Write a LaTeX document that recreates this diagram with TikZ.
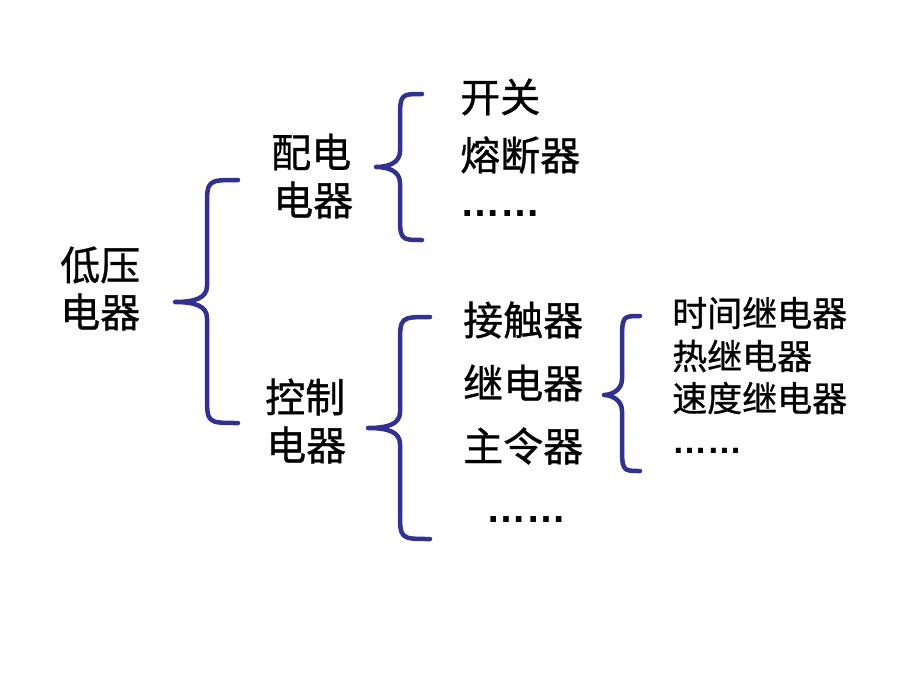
\documentclass[tikz,border=0pt]{standalone}
\usepackage{fontspec}
\setmainfont{Liberation Sans}
\newfontfamily\cjk[FakeBold=0.8]{Noto Sans CJK SC}
\definecolor{bracecol}{RGB}{48,48,150}
\tikzset{
  big/.style={anchor=west,inner sep=0pt,font=\cjk\fontsize{40}{40}\selectfont},
  small/.style={anchor=west,inner sep=0pt,font=\cjk\fontsize{35}{35}\selectfont},
  bigdots/.style={anchor=base west,inner sep=0pt,font=\bfseries\fontsize{40}{40}\selectfont},
  smalldots/.style={anchor=base west,inner sep=0pt,font=\bfseries\fontsize{35}{35}\selectfont},
  bracket/.style={draw=bracecol,line width=4.5pt,line cap=round,line join=round},
}
% #1 tip x, #2 tip y, #3 stem x, #4 end x, #5 top y, #6 bottom y
\newcommand{\curlybrace}[6]{%
  \draw[bracket] (#4,#5) .. controls (#3,#5) .. (#3,#5+28) -- (#3,#2-16)
    .. controls (#3,#2-4) and (#3-12,#2) .. (#1,#2)
    .. controls (#3-12,#2) and (#3,#2+4) .. (#3,#2+16) -- (#3,#6-28)
    .. controls (#3,#6) .. (#4,#6);}
\begin{document}
\begin{tikzpicture}[x=1pt,y=-1pt]
  \useasboundingbox (0,0) rectangle (920,690);
  \node[big] (dy1) at (60,265) {低压};   \node[big] (dy2) at (60,312) {电器};
  \node[big] (pd1) at (271,152) {配电};  \node[big] (pd2) at (273,200) {电器};
  \node[big] (kz1) at (265,397) {控制};  \node[big] (kz2) at (266,445) {电器};
  \node[big] (kg) at (460,97) {开关};
  \node[big] (rdq) at (460,155) {熔断器};
  \node[bigdots] (pdmore) at (460,216) {……};
  \node[big] (jcq) at (463,320) {接触器};
  \node[big] (jdq) at (463,383) {继电器};
  \node[big] (zlq) at (463,446) {主令器};
  \node[bigdots] (kzmore) at (486,522) {……};
  \node[small] (sj) at (672,313) {时间继电器};
  \node[small] (rj) at (672,356) {热继电器};
  \node[small] (sd) at (672,398) {速度继电器};
  \node[smalldots] (jdmore) at (672,453) {……};
  % braces
  \curlybrace{175}{302}{207}{238}{180}{423}
  \curlybrace{376}{167}{400}{422}{94}{240}
  \curlybrace{368}{428}{400}{430}{317}{539}
  \curlybrace{604}{395}{622}{640}{316}{471}
\end{tikzpicture}
\end{document}
